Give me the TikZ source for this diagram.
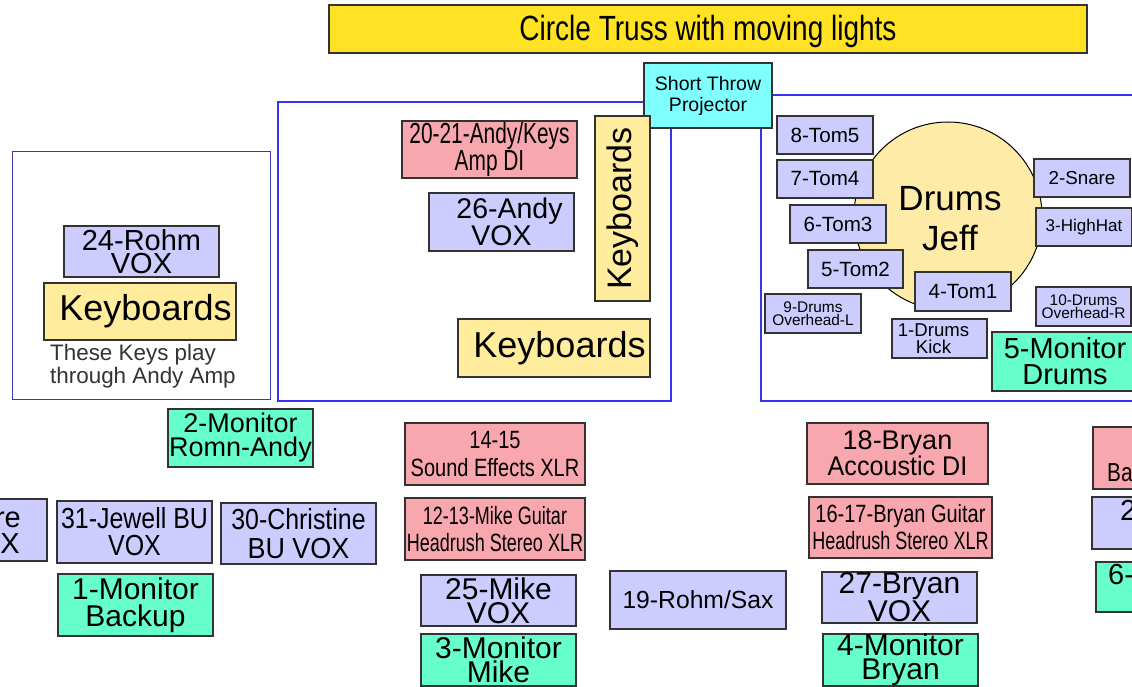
\documentclass[tikz,border=0pt]{standalone}
\usepackage{fontspec}
\setmainfont{Liberation Sans}
\newfontfamily\narA[FakeStretch=0.8]{Liberation Sans}
\newfontfamily\narB[FakeStretch=0.72]{Liberation Sans}
\newfontfamily\narC[FakeStretch=0.86]{Liberation Sans}
\newfontfamily\narD[FakeStretch=0.93]{Liberation Sans}
\newcommand\fsz[2]{\fontsize{#1}{#2}\selectfont}
\definecolor{voxc}{HTML}{CCCCFF}
\definecolor{redc}{HTML}{F9A7AE}
\definecolor{monc}{HTML}{66FFCC}
\definecolor{keyc}{HTML}{FFEC9C}
\definecolor{titc}{HTML}{FFE223}
\definecolor{drumc}{HTML}{FFEBA8}
\definecolor{projc}{HTML}{80FFFF}
\definecolor{framec}{HTML}{3535F0}
\definecolor{frameLc}{HTML}{3838B8}
\definecolor{notec}{HTML}{333333}
\definecolor{edgec}{HTML}{333333}
\begin{document}
\begin{tikzpicture}[x=1pt,y=-1pt,
  box/.style={draw=edgec, line width=1.1pt, inner sep=0pt, align=center},
  wh/.style 2 args={minimum width=#1pt, minimum height=#2pt},
  vox/.style={box, fill=voxc},
  redbox/.style={box, fill=redc},
  mon/.style={box, fill=monc},
  keys/.style={box, fill=keyc, font=\fsz{36}{36}},
  frame/.style={draw=framec, line width=1.2pt},
  frameL/.style={draw=frameLc, line width=1pt},
  lbl/.style={inner sep=0pt}]
\useasboundingbox (0,0) rectangle (1132,687);
\fill[white] (0,0) rectangle (1132,687);
\clip (0,0) rectangle (1132,687);

% stage areas
\draw[frameL] (12,152) rectangle (270,399);
\draw[frame] (278,102) rectangle (671,401);
\draw[frame] (761,95) rectangle (1200,401);

% title
\node[box, fill=titc, wh={758}{48}, font=\narA\fsz{35}{35}] (title) at (708,29) {\raisebox{-2.5pt}[\height][\depth]{Circle Truss with moving lights}};

% projector
\node[box, fill=projc, wh={128}{65}, font=\fsz{19.5}{21}] (proj) at (708,95.5) {Short Throw\\Projector};

% left area
\node[vox, wh={155}{51}, font=\fsz{29}{23}] (rohm) at (141.5,251.5) {24-Rohm\\VOX};
\node[keys, wh={192}{57}] (keysL) at (140,311.5) {\hspace*{11pt}Keyboards};
\node[lbl, anchor=north west, align=left, text=notec, font=\fsz{22.4}{23}] (note) at (50,344) {These Keys play\\through Andy Amp};

% middle area
\node[redbox, wh={175}{57}, font=\narB\fsz{29}{27}] (andyamp) at (489.5,149.5) {20-21-Andy/Keys\\Amp DI};
\node[vox, wh={145}{58}, font=\fsz{28.5}{25}] (andyvox) at (501.5,222) {\hspace*{16pt}26-Andy\\VOX};
\node[keys, rotate=90, wh={185}{55}, font=\fsz{34}{34}] (keysV) at (622.5,208.5) {Keyboards};
\node[keys, wh={192}{58}] (keysM) at (554,348) {\hspace*{11pt}Keyboards};

% drums
\draw[draw=black, line width=1pt, fill=drumc] (948,216) circle[radius=94pt];
\node[lbl, align=center, font=\fsz{35}{40}] (drumlbl) at (950,218.5) {Drums\\Jeff};
\node[vox, wh={96}{38}, font=\fsz{20.6}{20}] (tom5) at (825,135) {8-Tom5};
\node[vox, wh={96}{38}, font=\fsz{20.6}{20}] (tom4) at (825,179) {7-Tom4};
\node[vox, wh={96}{38}, font=\fsz{20.6}{20}] (tom3) at (838,224) {6-Tom3};
\node[vox, wh={95}{38}, font=\fsz{20.6}{20}] (tom2) at (855.5,269) {5-Tom2};
\node[vox, wh={96}{39}, font=\fsz{20.6}{20}] (tom1) at (963,291.5) {4-Tom1};
\node[vox, wh={96}{39}, font=\fsz{15.4}{13}] (ohl) at (813,313.5) {9-Drums\\Overhead-L};
\node[vox, wh={95}{39}, font=\fsz{18.6}{16.5}] (kick) at (939.5,338.5) {1-Drums\hspace*{12pt}\\Kick\hspace*{12pt}};
\node[vox, wh={96}{38}, font=\fsz{18.8}{19}] (snare) at (1082,178) {2-Snare};
\node[vox, wh={96}{38}, font=\fsz{17}{17}] (hihat) at (1084,227) {3-HighHat};
\node[vox, wh={95}{39}, font=\fsz{15.4}{13}] (ohr) at (1083.5,306.5) {10-Drums\\Overhead-R};
\node[mon, wh={146}{59}, font=\fsz{29}{26}] (mon5) at (1065,361.5) {5-Monitor\\Drums};

% lower left
\node[mon, wh={145}{58}, font=\fsz{27}{24}] (mon2) at (240.5,438) {2-Monitor\\Romn-Andy};
\draw[draw=edgec, line width=1.1pt, fill=voxc] (-110,499) rectangle (47,561);
\node[lbl, anchor=base east, font=\fsz{29}{29}] (lre) at (21,527) {re};
\node[lbl, anchor=base east, font=\fsz{29}{29}] (lx) at (20,553) {X};
\node[vox, wh={155}{62}, font=\narC\fsz{29}{27}] (jewell) at (134.5,532) {31-Jewell BU\\VOX};
\node[vox, wh={155}{61}, font=\fsz{29}{29}] (christine) at (298.5,533.5) {{\narC 30-Christine}\\{\narD BU VOX}};
\node[mon, wh={155}{62}, font=\fsz{30}{27}] (mon1) at (135.5,605) {1-Monitor\\Backup};

% lower middle
\node[redbox, wh={180}{62}, font=\narA\fsz{25}{28}] (sfx) at (495,454) {14-15\\Sound Effects XLR};
\node[redbox, wh={180}{62}, font=\narB\fsz{25}{27}] (mikeg) at (495,529) {12-13-Mike Guitar\\Headrush Stereo XLR};
\node[vox, wh={155}{51}, font=\fsz{30}{24}] (mikevox) at (498.5,600.5) {25-Mike\\VOX};
\node[mon, wh={155}{52}, font=\fsz{30}{24}] (mon3) at (498.5,660) {3-Monitor\\Mike};
\node[vox, wh={176}{58}, font=\fsz{24.7}{25}] (sax) at (698,600) {19-Rohm/Sax};

% lower right
\node[redbox, wh={181}{61}, font=\fsz{27}{25}] (bryandi) at (897.5,453.5) {18-Bryan\\{\narD Accoustic DI}};
\node[redbox, wh={183}{61}, font=\fsz{25}{27}] (bryang) at (900.5,527.5) {{\narA 16-17-Bryan Guitar}\\{\narB Headrush Stereo XLR}};
\node[vox, wh={155}{51}, font=\fsz{30}{24}] (bryanvox) at (899.5,597.5) {27-Bryan\\VOX};
\node[mon, wh={155}{52}, font=\fsz{30}{24}] (mon4) at (900.5,660) {4-Monitor\\Bryan};

% far right (cut off)
\draw[draw=edgec, line width=1.1pt, fill=redc] (1093,427) rectangle (1200,489);
\node[lbl, anchor=base west, font=\narA\fsz{26}{26}] (rbas) at (1107,481) {Bas};
\draw[draw=edgec, line width=1.1pt, fill=voxc] (1092,497) rectangle (1200,549);
\node[lbl, anchor=base west, font=\fsz{29}{29}] (r2) at (1120,520) {2};
\draw[draw=edgec, line width=1.1pt, fill=monc] (1096,562) rectangle (1200,612);
\node[lbl, anchor=base west, font=\fsz{29}{29}] (r6) at (1108,584) {6-};
\end{tikzpicture}
\end{document}
